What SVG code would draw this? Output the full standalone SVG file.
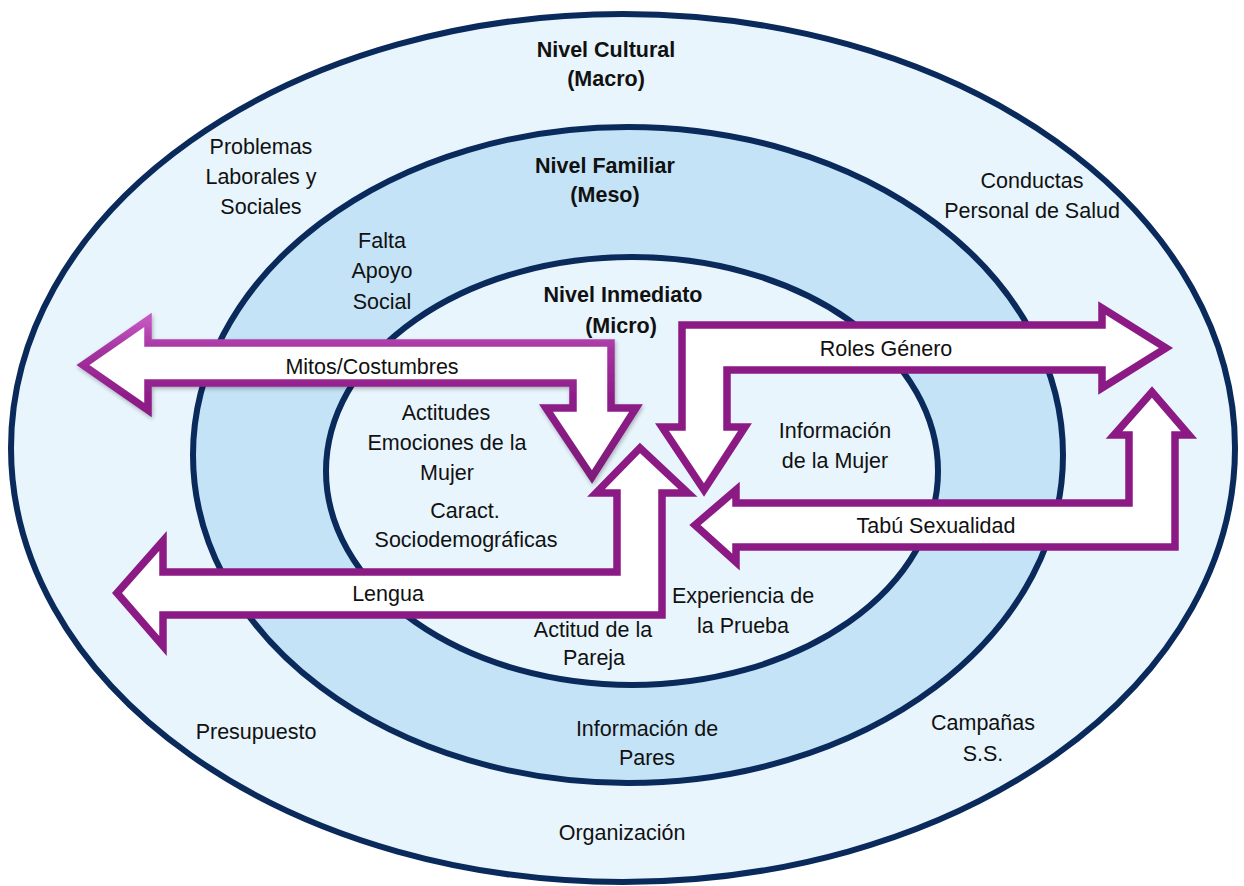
<svg xmlns="http://www.w3.org/2000/svg" width="1244" height="886" viewBox="0 0 1244 886">
  <defs>
    <style>
      .ring { stroke: #0a2a5c; stroke-width: 6; }
      .pale { fill: #e8f5fd; }
      .blue { fill: #c4e3f6; }
      .arrow { fill: #ffffff; stroke: #8b1a85; stroke-width: 7.5; stroke-linejoin: miter; stroke-miterlimit: 10; }
      .bevel { stroke: url(#bevelStroke); filter: url(#softShadow); }
      text { font-family: "Liberation Sans", Arial, sans-serif; font-size: 21.5px; fill: #111111; text-anchor: middle; }
      .title { font-weight: bold; }
    </style>
    <linearGradient id="bevelStroke" x1="0" y1="0" x2="0" y2="1">
      <stop offset="0" stop-color="#c455c1"/>
      <stop offset="0.2" stop-color="#a3339e"/>
      <stop offset="0.5" stop-color="#8e1c88"/>
      <stop offset="1" stop-color="#7e1a7a"/>
    </linearGradient>
    <filter id="softShadow" x="-10%" y="-20%" width="120%" height="140%">
      <feGaussianBlur in="SourceAlpha" stdDeviation="2"/>
      <feOffset dx="1" dy="2" result="blur"/>
      <feComponentTransfer><feFuncA type="linear" slope="0.3"/></feComponentTransfer>
      <feMerge><feMergeNode/><feMergeNode in="SourceGraphic"/></feMerge>
    </filter>
  </defs>

  <!-- background -->
  <rect width="1244" height="886" fill="#ffffff"/>

  <!-- three nested levels -->
  <g id="nivel-cultural">
    <ellipse class="ring pale" cx="623" cy="448" rx="612" ry="434"/>
    <text class="title" x="606" y="57">Nivel Cultural</text>
    <text class="title" x="606" y="86">(Macro)</text>
    <text x="261" y="154">Problemas</text>
    <text x="261" y="184">Laborales y</text>
    <text x="261" y="214">Sociales</text>
    <text x="1032" y="188">Conductas</text>
    <text x="1032" y="218">Personal de Salud</text>
    <text x="256" y="739">Presupuesto</text>
    <text x="983" y="730">Campañas</text>
    <text x="983" y="761">S.S.</text>
    <text x="622" y="840">Organización</text>
  </g>

  <g id="nivel-familiar">
    <ellipse class="ring blue" cx="628" cy="455" rx="435" ry="328"/>
    <text class="title" x="605" y="173">Nivel Familiar</text>
    <text class="title" x="605" y="202">(Meso)</text>
    <text x="382" y="248">Falta</text>
    <text x="382" y="278">Apoyo</text>
    <text x="382" y="309">Social</text>
    <text x="647" y="736">Información de</text>
    <text x="647" y="765">Pares</text>
  </g>

  <g id="nivel-inmediato">
    <ellipse class="ring pale" cx="632" cy="471" rx="306" ry="214"/>
    <text class="title" x="623" y="302">Nivel Inmediato</text>
    <text class="title" x="621" y="333">(Micro)</text>
    <text x="446" y="420">Actitudes</text>
    <text x="447" y="450">Emociones de la</text>
    <text x="447" y="480">Mujer</text>
    <text x="465" y="518">Caract.</text>
    <text x="466" y="547">Sociodemográficas</text>
    <text x="835" y="438">Información</text>
    <text x="835" y="468">de la Mujer</text>
    <text x="593" y="637">Actitud de la</text>
    <text x="594" y="665">Pareja</text>
    <text x="743" y="603">Experiencia de</text>
    <text x="743" y="633">la Prueba</text>
  </g>

  <!-- bent arrows linking the levels -->
  <g id="connectors">
    <g id="arrow-lengua">
      <path class="arrow" d="M117,593 L163,541 L163,572 L617,572 L617,493 L596,493 L640,448 L688,493 L662,493 L662,615 L163,615 L163,646 Z"/>
      <text x="388" y="601">Lengua</text>
    </g>
    <g id="arrow-mitos">
      <path class="arrow bevel" d="M83,365 L148,320 L148,343 L611,343 L611,408 L636,408 L592,477 L546,408 L573,408 L573,383 L148,383 L148,410 Z"/>
      <text x="372" y="374">Mitos/Costumbres</text>
    </g>
    <g id="arrow-roles">
      <path class="arrow" d="M682,325 L1102,325 L1102,308 L1166,348 L1102,388 L1102,370 L727,370 L727,427 L745,427 L704,490 L662,427 L682,427 Z"/>
      <text x="886" y="356">Roles Género</text>
    </g>
    <g id="arrow-tabu">
      <path class="arrow" d="M695,525 L736,490 L736,503 L1129,503 L1129,435 L1114,435 L1152,392 L1189,435 L1175,435 L1175,547 L736,547 L736,562 Z"/>
      <text x="936" y="533">Tabú Sexualidad</text>
    </g>
  </g>
</svg>
